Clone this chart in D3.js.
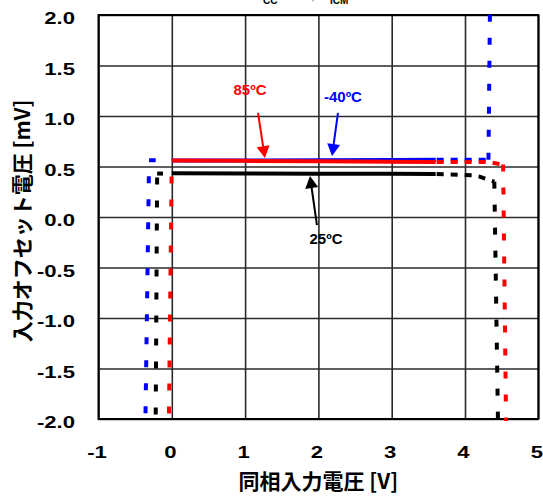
<!DOCTYPE html>
<html>
<head>
<meta charset="utf-8">
<script src="https://cdn.jsdelivr.net/npm/d3@7"></script>
<style>
  body { margin: 0; background: #fff; }
  text { font-family: "Liberation Sans", Arial, sans-serif; font-weight: bold; }
  .cjk { font-family: "Noto Sans CJK JP", sans-serif; font-weight: bold; }
</style>
</head>
<body>
<svg id="chart" width="543" height="496"></svg>
<script>
// Axis ticks
const xTicks = [-1, 0, 1, 2, 3, 4, 5];
const xTickLabels = ["-1", "0", "1", "2", "3", "4", "5"];
const yTicks = [2.0, 1.5, 1.0, 0.5, 0.0, -0.5, -1.0, -1.5, -2.0];
const yTickLabels = ["2.0", "1.5", "1.0", "0.5", "0.0", "-0.5", "-1.0", "-1.5", "-2.0"];

// -40ºC : input offset voltage [mV] vs common-mode input voltage [V]
const blueMain      = [[0, 0.559], [1, 0.559], [2, 0.561], [3, 0.564], [3.6, 0.566]];
const blueLeftStub  = [[-0.22, 0.562], [-0.31, 0.562]];
const blueLeftLeg   = [[-0.31, 0.562], [-0.36, -2.02]];
const blueRightTail = [[3.6, 0.566], [4.32, 0.566]];
const blueRightLeg  = [[4.32, 0.566], [4.34, 2.02]];

// 25ºC
const blackMain      = [[0, 0.432], [1, 0.431], [2, 0.429], [3, 0.427], [3.6, 0.425]];
const blackLeftStub  = [[-0.12, 0.43], [-0.2, 0.43]];
const blackLeftLeg   = [[-0.2, 0.43], [-0.22, -2.02]];
const blackRightTail = [[3.6, 0.425], [4.1, 0.412], [4.2, 0.40], [4.3, 0.375], [4.4, 0.35]];
const blackRightLeg  = [[4.4, 0.35], [4.45, -2.02]];

// 85ºC
const redMain      = [[0, 0.56], [1, 0.556], [2, 0.552], [3, 0.548], [3.6, 0.545]];
const redLeftLeg   = [[0, 0.56], [-0.04, -2.02]];
const redRightTail = [[3.6, 0.545], [4.3, 0.545], [4.45, 0.528], [4.52, 0.52]];
const redRightLeg  = [[4.52, 0.52], [4.56, -2.02]];

// Temperature callouts (axis units)
const callouts = [
  { label: "85ºC",  color: "#ff0000", at: [1.067, 1.203], from: [1.176, 1.03],  to: [1.27, 0.584] },
  { label: "-40ºC", color: "#0000ff", at: [2.335, 1.136], from: [2.267, 1.03],  to: [2.186, 0.604] },
  { label: "25ºC",  color: "#000000", at: [2.104, -0.27], from: [1.98, -0.08],  to: [1.885, 0.405] }
];

const svg = d3.select("#chart");
const plotL = 98.5, plotR = 538.3, plotT = 15, plotB = 419;
const x = d3.scaleLinear().domain([-1, 5]).range([plotL, plotR]);
const y = d3.scaleLinear().domain([-2, 2]).range([plotB, plotT]);

// grid lines
const gx = svg.append("g").attr("transform", `translate(0,${plotB})`)
  .call(d3.axisBottom(x).tickValues(xTicks).tickSize(-(plotB - plotT)).tickFormat(""));
const gy = svg.append("g").attr("transform", `translate(${plotL},0)`)
  .call(d3.axisLeft(y).tickValues(yTicks).tickSize(-(plotR - plotL)).tickFormat(""));
[gx, gy].forEach(g => {
  g.select(".domain").remove();
  g.selectAll("line").attr("stroke", "#2a2a2a").attr("stroke-width", 1.6);
});

// tick labels
const lx = svg.append("g").attr("transform", `translate(0,${plotB})`)
  .call(d3.axisBottom(x).tickValues(xTicks).tickFormat((d, i) => xTickLabels[i]).tickSize(0));
lx.select(".domain").remove();
lx.selectAll("text")
  .attr("y", 39.5).attr("dy", null).attr("x", -2 / 1.3)
  .attr("transform", "scale(1.3,1)")
  .attr("font-size", 17).attr("fill", "#000")
  .style("font-family", "'Liberation Sans', Arial, sans-serif").style("font-weight", "bold");

const ly = svg.append("g").attr("transform", `translate(${plotL},0)`)
  .call(d3.axisLeft(y).tickValues(yTicks).tickFormat((d, i) => yTickLabels[i]).tickSize(0));
ly.select(".domain").remove();
ly.selectAll("text")
  .attr("y", 8.6).attr("dy", null).attr("x", -23.5 / 1.3)
  .attr("transform", "scale(1.3,1)")
  .attr("text-anchor", "end")
  .attr("font-size", 17).attr("fill", "#000")
  .style("font-family", "'Liberation Sans', Arial, sans-serif").style("font-weight", "bold");

// plot frame
svg.append("rect")
  .attr("x", plotL).attr("y", plotT)
  .attr("width", plotR - plotL).attr("height", plotB - plotT)
  .attr("fill", "none").attr("stroke", "#000").attr("stroke-width", 2);

// curves
const line = d3.line().x(d => x(d[0])).y(d => y(d[1]));
function draw(points, color, dash, offset) {
  svg.append("path")
    .datum(points)
    .attr("d", line)
    .attr("fill", "none")
    .attr("stroke", color)
    .attr("stroke-width", 4)
    .attr("stroke-dasharray", dash || null)
    .attr("stroke-dashoffset", offset || 0);
}
const legDash = "7,16", tailDash = "7,7";

draw(blueMain, "#0000ff");
draw(blueLeftStub, "#0000ff");
draw(blueLeftLeg, "#0000ff", legDash, 7);
draw(blueRightTail, "#0000ff", tailDash, 13);
draw(blueRightLeg, "#0000ff", legDash, 0);

draw(blackMain, "#000000");
draw(blackLeftStub, "#000000");
draw(blackLeftLeg, "#000000", legDash, 19);
draw(blackRightTail, "#000000", tailDash, 13);
draw(blackRightLeg, "#000000", legDash, 0);

draw(redMain, "#ff0000");
draw(redLeftLeg, "#ff0000", legDash, 7);
draw(redRightTail, "#ff0000", tailDash, 13);
draw(redRightLeg, "#ff0000", legDash, 0);

// callouts with arrows
callouts.forEach(c => {
  const x1 = x(c.from[0]), y1 = y(c.from[1]);
  const x2 = x(c.to[0]), y2 = y(c.to[1]);
  const L = Math.hypot(x2 - x1, y2 - y1);
  const ux = (x2 - x1) / L, uy = (y2 - y1) / L;
  const hl = 12, hw = 6.5;
  const bx = x2 - ux * hl, by = y2 - uy * hl;
  svg.append("line")
    .attr("x1", x1).attr("y1", y1).attr("x2", bx + ux * 2).attr("y2", by + uy * 2)
    .attr("stroke", c.color).attr("stroke-width", 2);
  svg.append("polygon")
    .attr("points", [[x2, y2], [bx - uy * hw, by + ux * hw], [bx + uy * hw, by - ux * hw]].map(p => p.join(",")).join(" "))
    .attr("fill", c.color);
  svg.append("text")
    .attr("x", x(c.at[0])).attr("y", y(c.at[1]))
    .attr("text-anchor", "middle")
    .attr("font-size", 15)
    .attr("fill", c.color)
    .text(c.label);
});

// axis titles
svg.append("text").attr("class", "cjk")
  .attr("x", (plotL + plotR) / 2).attr("y", 489)
  .attr("text-anchor", "middle").attr("font-size", 21)
  .text("同相入力電圧 [V]");
svg.append("text").attr("class", "cjk")
  .attr("transform", `translate(30,${(plotT + plotB) / 2 + 4}) rotate(-90)`)
  .attr("text-anchor", "middle").attr("font-size", 21)
  .text("入力オフセット電圧 [mV]");

// measurement conditions line along the top edge
const cond = svg.append("text").attr("y", -1).attr("font-size", 14);
cond.append("tspan").attr("x", 254).text("V");
cond.append("tspan").attr("x", 263).attr("y", 3.5).attr("font-size", 10).text("CC");
cond.append("tspan").attr("x", 283).attr("y", -1).attr("fill", "#999").text("= 5V,");
cond.append("tspan").attr("x", 321).attr("y", -1).text("V");
cond.append("tspan").attr("x", 330).attr("y", 3.5).attr("font-size", 10).text("ICM");
</script>
</body>
</html>
